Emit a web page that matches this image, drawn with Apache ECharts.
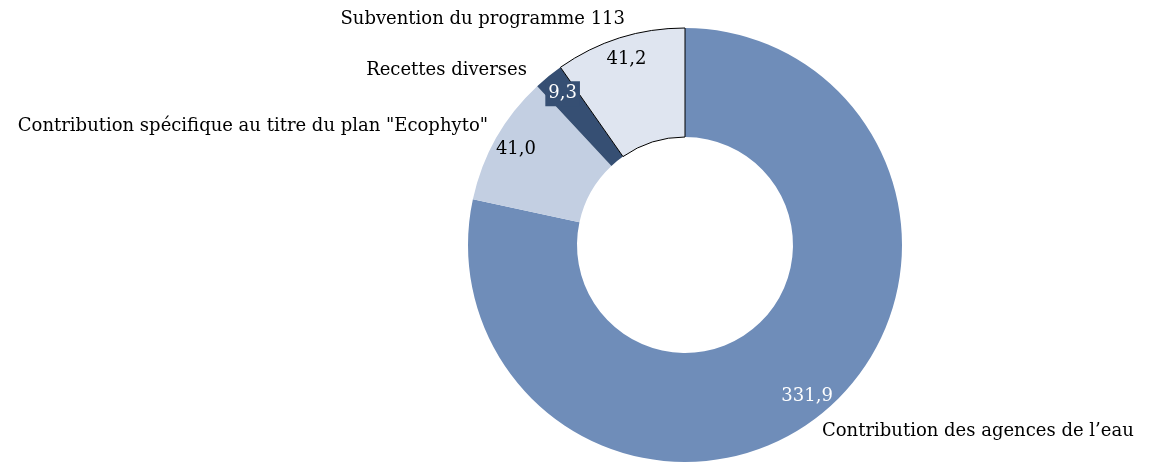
<!DOCTYPE html>
<html><head><meta charset="utf-8">
<script src="https://cdn.jsdelivr.net/npm/echarts@6/dist/echarts.min.js"></script>
<style>html,body{margin:0;padding:0;background:#fff}#c{width:1149px;height:474px}</style>
</head><body><div id="c"></div>
<script>
var categories = ['Contribution des agences de l\u2019eau', 'Contribution spécifique au titre du plan "Ecophyto"', 'Recettes diverses', 'Subvention du programme 113'];
var values = [331.9, 41.0, 9.3, 41.2];
var valueLabels = ['331,9', '41,0', '9,3', '41,2'];

// styles / layout (not data)
var colors = ['#6f8db9', '#c3cfe2', '#364f73', '#dfe5f0'];
var borders = [0, 0, 0, 1];
var labelColors = ['#ffffff', '#000000', '#ffffff', '#000000'];
var namePos = [[822, 431, 'left'], [488, 126, 'right'], [527, 70, 'right'], [625, 19, 'right']];
var FONT = 'DejaVu Serif';
var center = [685, 245];

var chart = echarts.init(document.getElementById('c'));
function mk(fn){ return categories.map(function(n,i){ return fn(n,i); }); }

chart.setOption({
  animation: false,
  series: [
    {
      type: 'pie', center: center, radius: [108, 217], startAngle: 90, clockwise: true,
      silent: true, label: {show: false}, labelLine: {show: false},
      data: mk(function(n,i){ return {name: n, value: values[i],
        itemStyle: {color: colors[i], borderColor: '#000', borderWidth: borders[i]}}; })
    },
    {
      type: 'pie', center: center, radius: [166, 217], startAngle: 90, clockwise: true,
      silent: true, itemStyle: {color: 'transparent'}, labelLine: {show: false},
      data: mk(function(n,i){ return {name: n, value: values[i],
        label: {show: true, position: 'inside', formatter: valueLabels[i], color: labelColors[i],
          fontFamily: FONT, fontSize: 18, overflow: 'none',
          backgroundColor: i === 2 ? colors[2] : 'transparent', padding: i === 2 ? [4, 3, 3, 3] : 0}}; })
    },
    {
      type: 'pie', center: center, radius: [108, 217], startAngle: 90, clockwise: true,
      silent: true, itemStyle: {color: 'transparent'}, labelLine: {show: false},
      label: {show: true, position: 'outside', color: '#000', fontFamily: FONT, fontSize: 18, overflow: 'none', edgeDistance: 0, bleedMargin: 0},
      labelLayout: function(p){ var q = namePos[p.dataIndex]; return {x: q[0], y: q[1], align: q[2], verticalAlign: 'middle'}; },
      data: mk(function(n,i){ return {name: n, value: values[i]}; })
    }
  ]
});
</script></body></html>
